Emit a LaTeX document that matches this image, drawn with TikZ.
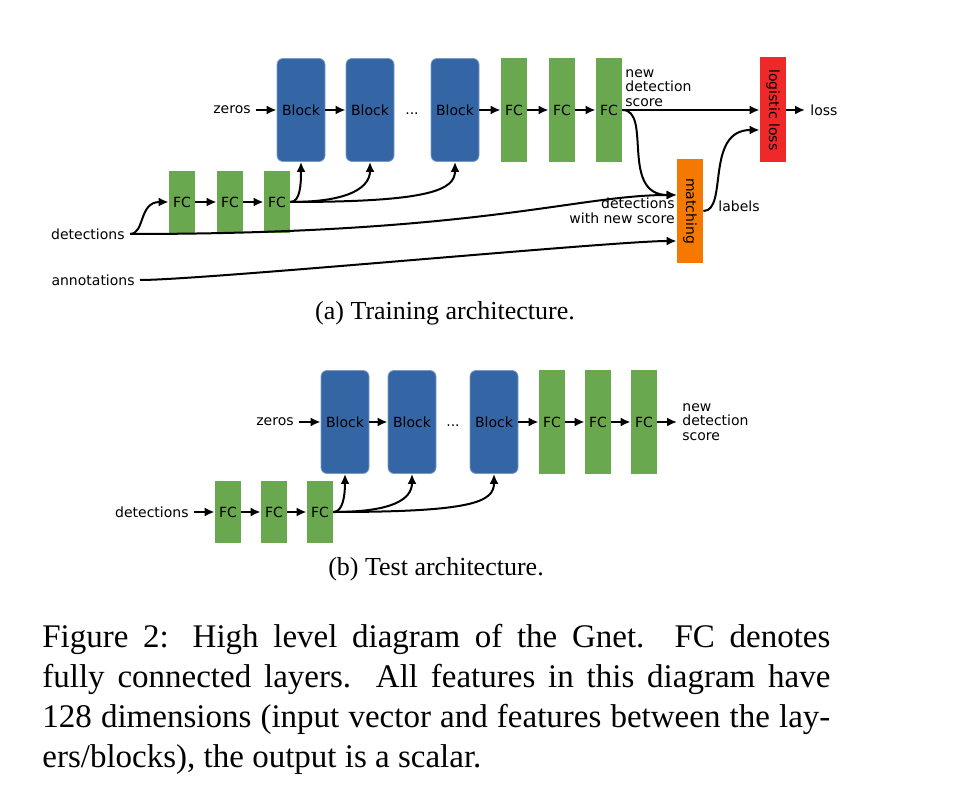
\documentclass[tikz,border=0pt]{standalone}
\usepackage{fontspec}
\setmainfont{Liberation Serif}
\newfontfamily\dvsans{DejaVu Sans}
\usepackage{graphicx}
\usetikzlibrary{arrows.meta,calc}

\definecolor{gnetblue}{HTML}{3465A4}
\definecolor{gnetgreen}{HTML}{6AA84F}
\definecolor{gnetred}{HTML}{EF2929}
\definecolor{gnetorange}{HTML}{F57900}

\tikzset{
  lbl/.style={font=\dvsans\fontsize{7}{7.25}\selectfont, inner sep=2.5pt},
  blockbox/.style={lbl, fill=gnetblue, draw=gnetblue!65!white, line width=0.4pt,
    rounded corners=3pt, minimum width=24pt, minimum height=51.5pt, inner sep=0pt},
  fcbox/.style={lbl, fill=gnetgreen, minimum width=13pt, minimum height=52pt, inner sep=0pt},
  fcsmall/.style={fcbox, minimum height=31pt},
  lossbox/.style={lbl, fill=gnetred, minimum width=13pt, minimum height=52.5pt, inner sep=0pt},
  matchbox/.style={lbl, fill=gnetorange, minimum width=13pt, minimum height=52pt, inner sep=0pt},
  arr/.style={-{Latex[length=5pt,width=4.5pt]}, line width=1pt},
  subcap/.style={font=\fontsize{13}{15.6}\selectfont, inner sep=0pt},
  figcap/.style={font=\fontsize{16.5}{20}\selectfont, inner sep=0pt, text width=394pt, align=justify},
}

\begin{document}
\begin{tikzpicture}[x=0.5pt,y=-0.5pt]
  \useasboundingbox (0,0) rectangle (979,807);

  %% (a) training architecture
  \node[lbl, anchor=east] (zerosA) at (256,110) {zeros};
  \node[blockbox] (blkA1) at (301,110) {Block};
  \node[blockbox] (blkA2) at (370,110) {Block};
  \node[lbl] (dotsA) at (412,114) {...};
  \node[blockbox] (blkA3) at (455,110) {Block};
  \node[fcbox] (fcA1) at (514,110) {FC};
  \node[fcbox] (fcA2) at (562,110) {FC};
  \node[fcbox] (fcA3) at (609,110) {FC};
  \node[lbl, anchor=west, align=left] (newscoreA) at (620,88) {new\\detection\\score};
  \node[lossbox] (logit) at (773,110) {\rotatebox{-90}{logistic loss}};
  \node[lbl, anchor=west] (lossA) at (805,110) {loss};
  \node[matchbox] (match) at (690,211) {\rotatebox{-90}{matching}};
  \coordinate (matchin) at ($(match.west)+(0,-16)$);
  \coordinate (annotin) at ($(match.west)+(0,30)$);
  \coordinate (logitin) at ($(logit.west)+(0,20)$);

  \node[fcsmall] (fcB1) at (182,202) {FC};
  \node[fcsmall] (fcB2) at (230,202) {FC};
  \node[fcsmall] (fcB3) at (277,202) {FC};
  \node[lbl, anchor=east] (detA) at (130,234) {detections};
  \node[lbl, anchor=east] (annotA) at (140,280) {annotations};
  \node[lbl, anchor=east, align=right] (dwnsA) at (680,211) {detections\\with new score};
  \node[lbl, anchor=west] (labelsA) at (713,206) {labels};

  \draw[arr] (zerosA) -- (blkA1);
  \draw[arr] (blkA1) -- (blkA2);
  \draw[arr] (blkA3) -- (fcA1);
  \draw[arr] (fcA1) -- (fcA2);
  \draw[arr] (fcA2) -- (fcA3);
  \draw[arr] (fcA3) -- (logit);
  \draw[arr] (logit) -- (lossA);
  \draw[arr] (detA.east) .. controls +(15,0) and +(-30,0) .. (fcB1.west);
  \draw[arr] (fcB1) -- (fcB2);
  \draw[arr] (fcB2) -- (fcB3);
  \draw[arr] (fcB3.east) .. controls +(10,0) and +(0,22) .. (blkA1.south);
  \draw[arr] (fcB3.east) .. controls +(60,0) and +(0,25) .. (blkA2.south);
  \draw[arr] (fcB3.east) .. controls +(140,0) and +(0,28) .. (blkA3.south);
  \draw[arr] (fcA3.east) .. controls +(30,0) and +(-57,0) .. (matchin);
  \draw[arr] (detA.east) .. controls +(350,0) and +(-100,0) .. (matchin);
  \draw[arr] (annotA.east) .. controls +(63,0) and +(-63,0) .. (annotin);
  \draw[arr] (match.east) .. controls +(25,0) and +(-55,0) .. (logitin);

  \node[subcap, anchor=base] (capA) at (445,320) {(a) Training architecture.};

  %% (b) test architecture
  \node[lbl, anchor=east] (zerosB) at (299,422) {zeros};
  \node[blockbox] (blkB1) at (345,422) {Block};
  \node[blockbox] (blkB2) at (412,422) {Block};
  \node[lbl] (dotsB) at (453,426) {...};
  \node[blockbox] (blkB3) at (494,422) {Block};
  \node[fcbox] (fcC1) at (552,422) {FC};
  \node[fcbox] (fcC2) at (598,422) {FC};
  \node[fcbox] (fcC3) at (644,422) {FC};
  \node[lbl, anchor=west, align=left] (newscoreB) at (677,422) {new\\detection\\score};

  \node[fcsmall] (fcD1) at (228,512) {FC};
  \node[fcsmall] (fcD2) at (274,512) {FC};
  \node[fcsmall] (fcD3) at (320,512) {FC};
  \node[lbl, anchor=east] (detB) at (194,512) {detections};

  \draw[arr] (zerosB) -- (blkB1);
  \draw[arr] (blkB1) -- (blkB2);
  \draw[arr] (blkB3) -- (fcC1);
  \draw[arr] (fcC1) -- (fcC2);
  \draw[arr] (fcC2) -- (fcC3);
  \draw[arr] (fcC3) -- (newscoreB);
  \draw[arr] (detB) -- (fcD1);
  \draw[arr] (fcD1) -- (fcD2);
  \draw[arr] (fcD2) -- (fcD3);
  \draw[arr] (fcD3.east) .. controls +(10,0) and +(0,20) .. (blkB1.south);
  \draw[arr] (fcD3.east) .. controls +(60,0) and +(0,25) .. (blkB2.south);
  \draw[arr] (fcD3.east) .. controls +(140,0) and +(0,28) .. (blkB3.south);

  \node[subcap, anchor=base] (capB) at (436,575) {(b) Test architecture.};

  %% figure caption
  \node[figcap, anchor=north west] (figcap) at (42,623.5) {\tolerance=10000
    Figure 2: High level diagram of the Gnet.  FC denotes\linebreak
    fully connected layers.  All features in this diagram have\linebreak
    128 dimensions (input vector and features between the lay-\linebreak
    ers/blocks), the output is a scalar.};
\end{tikzpicture}
\end{document}
